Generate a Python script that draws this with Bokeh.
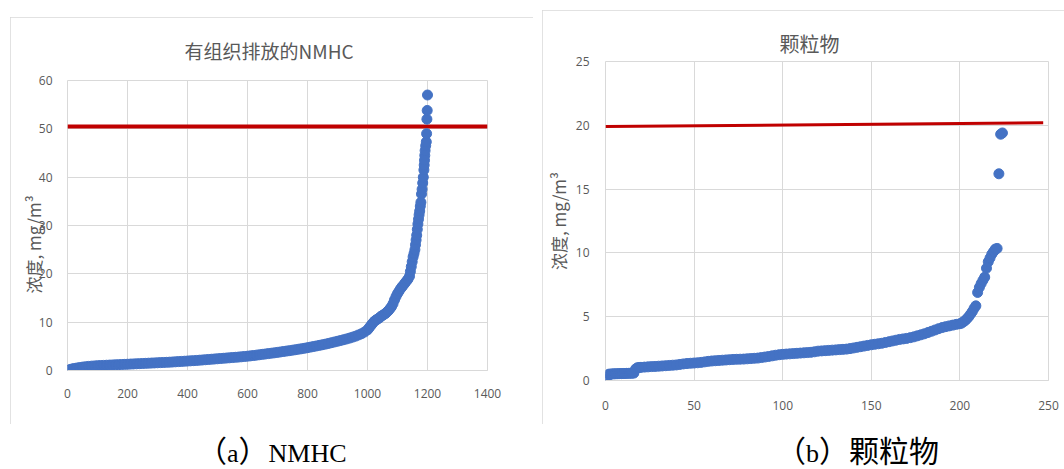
from bokeh.plotting import figure
from bokeh.models import Range1d, Div, Spacer, Title
from bokeh.layouts import row, column
from bokeh.embed import file_html
from bokeh.resources import INLINE

# ---------------- data: (a) NMHC ----------------
nmhc_index = [0, 10, 20, 30, 40, 50, 60, 70, 80, 90, 100, 110, 120, 130, 140,
              150, 160, 170, 180, 190, 200, 210, 220, 230, 240, 250, 260, 270,
              280, 290, 300, 310, 320, 330, 340, 350, 360, 370, 380, 390, 400,
              410, 420, 430, 440, 450, 460, 470, 480, 490, 500, 510, 520, 530,
              540, 550, 560, 570, 580, 590, 600, 610, 620, 630, 640, 650, 660,
              670, 680, 690, 700, 710, 720, 730, 740, 750, 760, 770, 780, 790,
              800, 810, 820, 830, 840, 850, 860, 870, 880, 890, 900, 910, 920,
              930, 940, 950, 960, 970, 980, 990, 1000, 1005, 1010, 1015, 1020,
              1025, 1030, 1035, 1040, 1045, 1050, 1055, 1060, 1065, 1070, 1075,
              1080, 1085, 1090, 1095, 1100, 1105, 1110, 1115, 1120, 1125, 1130,
              1135, 1140, 1143, 1146, 1149, 1152, 1155, 1158, 1160, 1162, 1164,
              1166, 1168, 1170, 1172, 1174, 1176, 1178, 1180, 1182, 1184, 1186,
              1188, 1189, 1190, 1191, 1192, 1194, 1196, 1197, 1198, 1199, 1200]
nmhc_conc = [0.05, 0.25, 0.4, 0.5, 0.6, 0.7, 0.78, 0.85, 0.9, 0.95, 1.0, 1.03,
             1.06, 1.09, 1.12, 1.15, 1.18, 1.21, 1.24, 1.27, 1.3, 1.33, 1.36,
             1.39, 1.42, 1.45, 1.48, 1.51, 1.54, 1.57, 1.6, 1.63, 1.66, 1.69,
             1.72, 1.76, 1.8, 1.84, 1.88, 1.92, 1.96, 2.0, 2.04, 2.08, 2.13,
             2.18, 2.23, 2.28, 2.33, 2.38, 2.43, 2.48, 2.53, 2.58, 2.63, 2.68,
             2.73, 2.78, 2.84, 2.9, 2.96, 3.03, 3.1, 3.18, 3.26, 3.34, 3.42,
             3.5, 3.58, 3.66, 3.75, 3.84, 3.93, 4.02, 4.11, 4.2, 4.3, 4.4, 4.5,
             4.6, 4.72, 4.84, 4.96, 5.08, 5.2, 5.33, 5.46, 5.6, 5.75, 5.9,
             6.05, 6.2, 6.36, 6.52, 6.7, 6.9, 7.1, 7.35, 7.6, 7.95, 8.4, 8.8,
             9.2, 9.6, 10.0, 10.3, 10.5, 10.7, 10.9, 11.2, 11.4, 11.6, 11.8,
             12.1, 12.4, 12.8, 13.2, 13.8, 14.6, 15.3, 15.9, 16.4, 16.9, 17.3,
             17.7, 18.1, 18.5, 18.9, 19.5, 20.5, 21.5, 22.5, 23.5, 24.2, 25.0,
             26.0, 27.0, 28.0, 29.2, 30.3, 31.3, 32.2, 33.0, 34.0, 34.8, 36.5,
             37.5, 38.8, 40.0, 41.5, 42.5, 43.5, 44.5, 45.5, 46.5, 47.3, 49.0,
             52.0, 53.8, 57.0]
nmhc_limit_x = [0, 1400]
nmhc_limit_y = [50.5, 50.5]
nmhc_xticks = [0, 200, 400, 600, 800, 1000, 1200, 1400]
nmhc_yticks = [0, 10, 20, 30, 40, 50, 60]

# ---------------- data: (b) particulate matter ----------------
pm_index = [0, 1, 2, 3, 4, 5, 6, 7, 8, 9, 10, 11, 12, 13, 14, 15, 16, 17, 18,
            19, 20, 22, 24, 26, 28, 30, 32, 34, 36, 38, 40, 42, 44, 46, 48, 50,
            52, 54, 56, 58, 60, 62, 64, 66, 68, 70, 72, 74, 76, 78, 80, 82, 84,
            86, 88, 90, 92, 94, 96, 98, 100, 102, 104, 106, 108, 110, 112, 114,
            116, 118, 120, 122, 124, 126, 128, 130, 132, 134, 136, 138, 140,
            142, 144, 146, 148, 150, 152, 154, 156, 158, 160, 162, 164, 166,
            168, 170, 172, 174, 176, 178, 180, 182, 184, 186, 188, 190, 192,
            194, 196, 198, 200, 201, 202, 203, 204, 205, 206, 207, 208, 209,
            210, 211, 212, 213, 214, 215, 216, 217, 218, 219, 220, 221, 222,
            223, 224]
pm_conc = [0.05, 0.3, 0.5, 0.5, 0.52, 0.52, 0.53, 0.53, 0.54, 0.54, 0.55, 0.55,
           0.56, 0.56, 0.57, 0.57, 0.58, 0.9, 1.0, 1.02, 1.03, 1.05, 1.07,
           1.09, 1.1, 1.12, 1.14, 1.16, 1.18, 1.2, 1.22, 1.26, 1.3, 1.33,
           1.35, 1.37, 1.39, 1.42, 1.46, 1.5, 1.53, 1.55, 1.57, 1.59, 1.61,
           1.63, 1.65, 1.66, 1.67, 1.68, 1.7, 1.72, 1.74, 1.76, 1.8, 1.84,
           1.88, 1.93, 1.98, 2.02, 2.05, 2.07, 2.09, 2.11, 2.13, 2.15, 2.17,
           2.19, 2.21, 2.25, 2.3, 2.32, 2.34, 2.36, 2.38, 2.4, 2.42, 2.44,
           2.46, 2.5, 2.55, 2.6, 2.65, 2.7, 2.75, 2.8, 2.84, 2.88, 2.92, 2.98,
           3.04, 3.1, 3.16, 3.22, 3.26, 3.3, 3.36, 3.42, 3.5, 3.58, 3.66,
           3.76, 3.86, 3.96, 4.06, 4.15, 4.22, 4.28, 4.34, 4.4, 4.45, 4.5,
           4.6, 4.7, 4.85, 5.0, 5.2, 5.4, 5.65, 5.85, 6.9, 7.3, 7.6, 7.85,
           8.1, 8.8, 9.3, 9.6, 9.9, 10.1, 10.3, 10.35, 16.2, 19.3, 19.4]
pm_limit_x = [0, 247]
pm_limit_y = [19.9, 20.2]
pm_xticks = [0, 50, 100, 150, 200, 250]
pm_yticks = [0, 5, 10, 15, 20, 25]

BLUE = "#4472C4"
RED = "#C00000"
GRID = "#d9d9d9"
TXT = "#595959"
CJK = "Noto Sans CJK SC"
PANEL_STYLE = {"outline": "1px solid #d9d9d9", "outline-offset": "-1px"}


def style(p, xticks, yticks, xstand, ystand):
    p.xaxis.ticker = xticks
    p.yaxis.ticker = yticks
    p.xgrid.ticker = xticks
    p.ygrid.ticker = yticks
    for g in (p.xgrid, p.ygrid):
        g.grid_line_color = GRID
        g.grid_line_width = 1
    p.outline_line_color = GRID
    for ax in (p.xaxis, p.yaxis):
        ax.major_tick_line_color = None
        ax.minor_tick_line_color = None
        ax.major_label_text_color = TXT
        ax.major_label_text_font = "Open Sans"
        ax.major_label_text_font_size = "12px"
    p.xaxis.axis_line_color = GRID
    p.yaxis.axis_line_color = None
    p.xaxis.major_label_standoff = xstand
    p.yaxis.major_label_standoff = ystand
    p.yaxis.axis_label_text_font = CJK
    p.yaxis.axis_label_text_font_size = "17px"
    p.yaxis.axis_label_text_font_style = "normal"
    p.yaxis.axis_label_text_color = TXT
    p.background_fill_color = "white"
    p.border_fill_color = "white"


# ---------------- figure (a) ----------------
pa = figure(width=523, height=407, output_backend="svg", toolbar_location=None,
            x_range=Range1d(0, 1400), y_range=Range1d(0, 60),
            min_border_left=57, min_border_right=46, min_border_top=63,
            min_border_bottom=54, styles=PANEL_STYLE)
pa.title = Title(text="有组织排放的NMHC", align="left", offset=117, standoff=33,
                 text_font=CJK, text_font_size="19px", text_font_style="normal",
                 text_color=TXT)
style(pa, nmhc_xticks, nmhc_yticks, 12, 9)
pa.yaxis.axis_label = "浓度, mg/m³\u3000\u3000 "
pa.yaxis.axis_label_standoff = -10
pa.line(nmhc_limit_x, nmhc_limit_y, line_color=RED, line_width=4)
pa.scatter(nmhc_index, nmhc_conc, marker="circle", size=10,
           fill_color=BLUE, line_color=BLUE)

# ---------------- figure (b) ----------------
pb = figure(width=522, height=414, output_backend="svg", toolbar_location=None,
            x_range=Range1d(0, 250), y_range=Range1d(0, 25),
            min_border_left=61, min_border_right=16, min_border_top=51,
            min_border_bottom=44, styles=PANEL_STYLE)
pb.title = Title(text="颗粒物", align="left", offset=174, standoff=8,
                 text_font=CJK, text_font_size="20px", text_font_style="normal",
                 text_color=TXT)
style(pb, pm_xticks, pm_yticks, 14, 10)
pb.yaxis.axis_label = "浓度, mg/m³"
pb.yaxis.axis_label_standoff = 2
pb.line(pm_limit_x, pm_limit_y, line_color=RED, line_width=3)
pb.scatter(pm_index, pm_conc, marker="circle", size=10,
           fill_color=BLUE, line_color=BLUE)

cap_css = ("font-family:'Liberation Serif','Noto Sans CJK SC',serif;"
           "font-size:26px;line-height:30px;color:#000;white-space:nowrap;"
           "padding-top:8px;")
big = "<span style=\"font-size:30px\">{}</span>"
cap_a = Div(text=f"<div style=\"{cap_css}padding-left:192px\">"
                 f"{big.format('（')}a{big.format('）')}NMHC</div>",
            width=546, height=45)
cap_b = Div(text=f"<div style=\"{cap_css}padding-left:215px\">"
                 f"{big.format('（')}b{big.format('）颗粒物')}</div>",
            width=518, height=45)

top = row(Spacer(width=10, height=424),
          column(Spacer(width=523, height=17), pa),
          Spacer(width=9, height=424),
          column(Spacer(width=522, height=10), pb))
layout = column(top, row(cap_a, cap_b))

open("out.html", "w").write(file_html(layout, INLINE))
